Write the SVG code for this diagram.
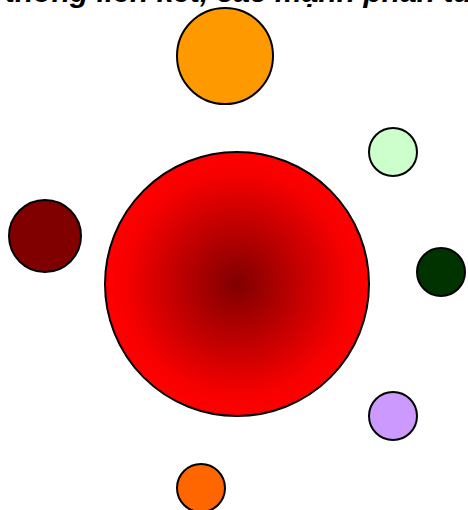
<svg xmlns="http://www.w3.org/2000/svg" width="468" height="510" viewBox="0 0 468 510">
<style>
.n{stroke:#000;stroke-width:2}
.t{font-family:"Liberation Sans",Arial,sans-serif;font-weight:bold;font-style:italic;font-size:30px;fill:#000}
</style>
<defs>
<radialGradient id="g" cx="0.5" cy="0.5" r="0.5">
<stop offset="0" stop-color="#800000"/>
<stop offset="0.85" stop-color="#F80000"/>
<stop offset="1" stop-color="#FF0000"/>
</radialGradient>
</defs>
<rect width="468" height="510" fill="#fff"/>
<text class="t" x="5" y="2">thống liên kết, các mạnh phần tử</text>
<g id="connectors"/>
<g id="center"><circle class="n" cx="237" cy="284" r="132" fill="url(#g)"/></g>
<g id="top"><circle class="n" cx="225" cy="56" r="48" fill="#FF9900"/></g>
<g id="lightgreen"><circle class="n" cx="393" cy="152" r="24" fill="#CCFFCC"/></g>
<g id="darkred"><circle class="n" cx="45" cy="236" r="36" fill="#800000"/></g>
<g id="darkgreen"><circle class="n" cx="441" cy="272" r="24" fill="#003300"/></g>
<g id="purple"><circle class="n" cx="393" cy="416" r="24" fill="#CC99FF"/></g>
<g id="bottom"><circle class="n" cx="201" cy="488" r="24" fill="#FF6600"/></g>
</svg>
